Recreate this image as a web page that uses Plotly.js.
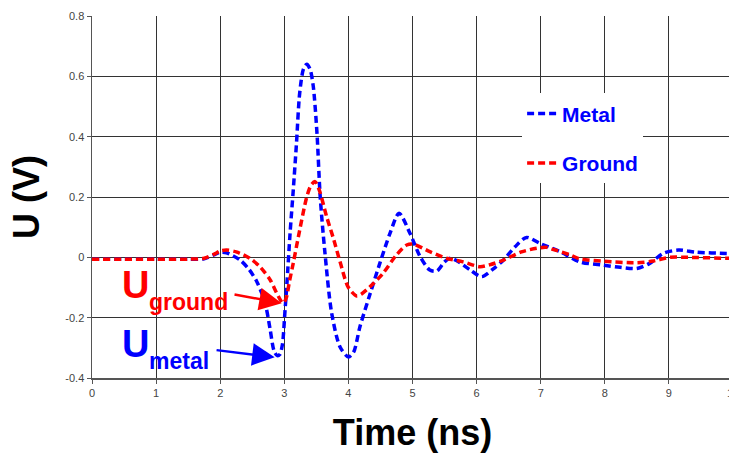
<!DOCTYPE html>
<html>
<head>
<meta charset="utf-8">
<script src="https://cdn.plot.ly/plotly-3.0.1.min.js"></script>
<style>
html, body { margin:0; padding:0; overflow:hidden; background:#fff; }
#chart { width:745px; height:455px; }
</style>
</head>
<body>
<div id="chart"></div>
<script>
// Time (ns) and voltages (V)
const metalTime = [0, 0.5, 1.0, 1.5, 1.75, 1.9, 2.0, 2.1, 2.31, 2.45, 2.57, 2.65, 2.72, 2.78, 2.84, 2.89, 2.93, 2.97, 3.01, 3.04, 3.09, 3.14, 3.19, 3.24, 3.30, 3.35, 3.40, 3.45, 3.51, 3.56, 3.63, 3.74, 3.87, 4.0, 4.08, 4.18, 4.34, 4.49, 4.65, 4.79, 4.96, 5.12, 5.27, 5.38, 5.50, 5.59, 5.69, 5.9, 6.08, 6.25, 6.42, 6.6, 6.78, 6.99, 7.3, 7.61, 7.98, 8.24, 8.5, 8.7, 8.91, 9.15, 9.43, 9.9, 10.2];
const metalV    = [-0.006, -0.006, -0.006, -0.006, -0.005, 0.008, 0.017, 0.015, -0.009, -0.04, -0.08, -0.12, -0.17, -0.24, -0.31, -0.326, -0.322, -0.29, -0.18, -0.09, 0.08, 0.223, 0.378, 0.544, 0.625, 0.640, 0.625, 0.57, 0.411, 0.201, 0.024, -0.186, -0.297, -0.33, -0.315, -0.23, -0.12, -0.02, 0.08, 0.146, 0.08, 0.002, -0.042, -0.045, -0.015, -0.003, -0.011, -0.042, -0.064, -0.04, -0.009, 0.035, 0.066, 0.046, 0.019, -0.015, -0.026, -0.033, -0.037, -0.02, 0.013, 0.024, 0.017, 0.013, 0.012];

const groundTime = [0, 0.5, 1.0, 1.5, 1.75, 1.9, 2.0, 2.1, 2.25, 2.46, 2.62, 2.78, 2.88, 2.98, 3.03, 3.08, 3.14, 3.24, 3.35, 3.42, 3.48, 3.55, 3.66, 3.77, 3.87, 4.0, 4.13, 4.2, 4.34, 4.54, 4.75, 4.91, 5.01, 5.27, 5.53, 5.79, 6.05, 6.2, 6.42, 6.7, 6.94, 7.09, 7.2, 7.46, 7.61, 7.98, 8.5, 8.76, 9.02, 9.3, 9.9, 10.2];
const groundV    = [-0.006, -0.006, -0.006, -0.006, -0.003, 0.01, 0.021, 0.024, 0.018, -0.003, -0.031, -0.075, -0.118, -0.152, -0.135, -0.08, -0.019, 0.09, 0.20, 0.24, 0.251, 0.22, 0.135, 0.06, -0.015, -0.10, -0.128, -0.122, -0.097, -0.053, 0.008, 0.041, 0.044, 0.019, -0.003, -0.015, -0.031, -0.025, -0.009, 0.018, 0.030, 0.033, 0.026, 0.008, -0.005, -0.013, -0.018, -0.012, 0.0, 0.0, -0.003, -0.003];

const xTicks = [0, 1, 2, 3, 4, 5, 6, 7, 8, 9, 10];
const yTicks = [-0.4, -0.2, 0, 0.2, 0.4, 0.6, 0.8];
const yTickText = ['-0.4', '-0.2', '0', '0.2', '0.4', '0.6', '0.8'];

const BLUE = '#0000ff';
const RED = '#ff0000';

const traces = [
  { x: metalTime, y: metalV, name: 'Metal', type: 'scatter', mode: 'lines',
    line: { color: BLUE, width: 3.5, dash: '7px,4px', shape: 'spline', smoothing: 0.8 },
    legendgroup: 'm', legendrank: 1 },
  { x: groundTime, y: groundV, name: 'Ground', type: 'scatter', mode: 'lines',
    line: { color: RED, width: 3.5, dash: '7px,4px', shape: 'spline', smoothing: 0.8 },
    legendgroup: 'g', legendrank: 2 }
];

const axisFont = { family: 'Liberation Sans, Arial, sans-serif', size: 11, color: '#444' };

const layout = {
  width: 745, height: 455,
  margin: { l: 92, r: 12, t: 16, b: 77 },
  paper_bgcolor: '#fff', plot_bgcolor: '#fff',
  showlegend: true,
  legend: {
    x: 0.671, y: 0.786, xanchor: 'left', yanchor: 'top',
    bgcolor: '#ffffff', borderwidth: 0,
    font: { family: 'Liberation Sans, Arial, sans-serif', size: 21, color: BLUE, weight: 'bold' },
    traceorder: 'grouped', tracegroupgap: 19
  },
  xaxis: {
    range: [0, 10], tickvals: xTicks, ticktext: xTicks.map(String),
    showgrid: true, gridcolor: '#333', gridwidth: 1,
    showline: true, linecolor: '#555', linewidth: 1.5,
    ticks: 'outside', ticklen: 4, tickcolor: '#555',
    zeroline: false, tickfont: axisFont,
    title: { text: '<b>Time (ns)</b>', font: { family: 'Liberation Sans, Arial, sans-serif', size: 36, color: '#000' }, standoff: 22 }
  },
  yaxis: {
    range: [-0.4, 0.8], tickvals: yTicks, ticktext: yTickText,
    showgrid: true, gridcolor: '#333', gridwidth: 1,
    showline: true, linecolor: '#555', linewidth: 1.5,
    ticks: 'outside', ticklen: 4, tickcolor: '#555',
    zeroline: false, tickfont: axisFont,
    title: { text: '<b>U (V)</b>', font: { family: 'Liberation Sans, Arial, sans-serif', size: 36, color: '#000' }, standoff: 14 }
  },
  annotations: [
    { x: 0.686, y: -0.092, xref: 'x', yref: 'y', text: '<b>U</b>', showarrow: false,
      font: { family: 'Liberation Sans, Arial, sans-serif', size: 38, color: RED }, xanchor: 'center', yanchor: 'middle' },
    { x: 0.858, y: -0.148, xref: 'x', yref: 'y', text: '<b>ground</b>', showarrow: false,
      font: { family: 'Liberation Sans, Arial, sans-serif', size: 23, color: RED }, xanchor: 'left', yanchor: 'middle' },
    { x: 0.686, y: -0.288, xref: 'x', yref: 'y', text: '<b>U</b>', showarrow: false,
      font: { family: 'Liberation Sans, Arial, sans-serif', size: 38, color: BLUE }, xanchor: 'center', yanchor: 'middle' },
    { x: 0.858, y: -0.344, xref: 'x', yref: 'y', text: '<b>metal</b>', showarrow: false,
      font: { family: 'Liberation Sans, Arial, sans-serif', size: 23, color: BLUE }, xanchor: 'left', yanchor: 'middle' },
    { x: 2.96, y: -0.152, xref: 'x', yref: 'y', axref: 'x', ayref: 'y', ax: 2.2, ay: -0.122,
      text: '', showarrow: true, arrowhead: 2, arrowsize: 1.8, arrowwidth: 2.5, arrowcolor: RED },
    { x: 2.85, y: -0.331, xref: 'x', yref: 'y', axref: 'x', ayref: 'y', ax: 1.92, ay: -0.307,
      text: '', showarrow: true, arrowhead: 2, arrowsize: 1.8, arrowwidth: 2.5, arrowcolor: BLUE }
  ]
};

Plotly.newPlot('chart', traces, layout, { staticPlot: true, displayModeBar: false });
</script>
</body>
</html>
